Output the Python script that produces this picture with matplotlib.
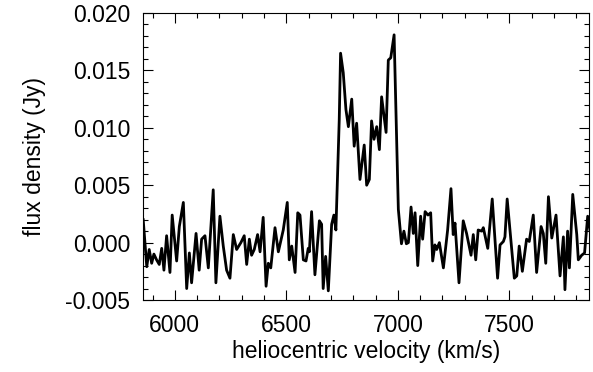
import matplotlib
matplotlib.use("Agg")
import matplotlib.pyplot as plt
from matplotlib.ticker import MultipleLocator, FormatStrFormatter

# heliocentric velocity (km/s) and flux density (Jy)
velocity = [5858, 5874, 5885, 5896, 5906, 5918, 5930, 5941, 5951, 5963,
            5978, 5988, 6008, 6020, 6038, 6053, 6065, 6075, 6095, 6109,
            6120, 6135, 6150, 6172, 6184, 6202, 6217, 6232, 6247, 6262,
            6277, 6296, 6311, 6322, 6334, 6344, 6356, 6371, 6382, 6396,
            6409, 6419, 6430, 6449, 6464, 6486, 6504, 6513, 6524, 6539,
            6551, 6561, 6576, 6588, 6598, 6603, 6613, 6628, 6648, 6658,
            6665, 6676, 6688, 6703, 6713, 6722, 6737, 6743, 6755, 6767,
            6778, 6793, 6804, 6815, 6830, 6849, 6860, 6872, 6882, 6893,
            6905, 6917, 6927, 6947, 6957, 6968, 6983, 7002, 7016, 7027,
            7038, 7047, 7059, 7069, 7077, 7089, 7102, 7111, 7122, 7135,
            7147, 7156, 7166, 7174, 7186, 7204, 7223, 7238, 7248, 7256,
            7274, 7293, 7308, 7328, 7338, 7349, 7360, 7376, 7383, 7403,
            7423, 7435, 7447, 7458, 7473, 7480, 7490, 7506, 7522, 7533,
            7544, 7558, 7577, 7589, 7607, 7622, 7642, 7652, 7663, 7675,
            7690, 7709, 7727, 7742, 7749, 7761, 7769, 7784, 7802, 7809,
            7824, 7837, 7851, 7861]
flux = [0.0020, -0.0021, -0.0006, -0.0018, -0.0010, -0.0015, -0.0019, -0.0005, -0.0024, 0.0006,
        -0.0026, 0.0024, -0.0016, 0.0014, 0.0035, -0.0040, -0.0009, -0.0035, 0.0008, -0.0024,
        0.0003, 0.0006, -0.0022, 0.0046, -0.0035, 0.0023, -0.0003, -0.0024, -0.0031, 0.0007,
        -0.0006, 0.0000, 0.0006, -0.0019, 0.0003, -0.0011, -0.0006, 0.0007, -0.0008, 0.0022,
        -0.0038, -0.0018, -0.0022, 0.0013, -0.0008, 0.0011, 0.0035, -0.0015, -0.0003, -0.0026,
        0.0026, 0.0024, -0.0015, -0.0016, -0.0005, -0.0008, 0.0027, -0.0028, 0.0019, 0.0016,
        -0.0040, -0.0012, -0.0042, 0.0016, 0.0024, 0.0011, 0.0107, 0.0165, 0.0148, 0.0116,
        0.0101, 0.0125, 0.0084, 0.0104, 0.0055, 0.0085, 0.0050, 0.0055, 0.0106, 0.0090,
        0.0101, 0.0081, 0.0127, 0.0096, 0.0159, 0.0161, 0.0181, 0.0029, -0.0001, 0.0010,
        -0.0001, 0.0000, 0.0031, 0.0008, 0.0026, -0.0020, 0.0023, 0.0003, 0.0027, 0.0024,
        0.0026, -0.0016, -0.0002, -0.0006, 0.0000, -0.0022, 0.0011, 0.0047, 0.0007, 0.0017,
        -0.0035, 0.0019, 0.0008, -0.0011, 0.0007, -0.0015, 0.0011, 0.0010, 0.0013, -0.0005,
        0.0038, 0.0003, -0.0031, -0.0002, 0.0001, 0.0005, 0.0038, 0.0004, -0.0031, -0.0029,
        -0.0003, -0.0025, 0.0003, 0.0001, 0.0024, -0.0026, 0.0014, 0.0008, -0.0018, 0.0040,
        0.0004, 0.0024, -0.0029, 0.0005, -0.0041, 0.0010, -0.0022, 0.0042, 0.0007, -0.0015,
        -0.0011, -0.0009, 0.0023, 0.0011]

plt.rcParams['font.family'] = ['Liberation Sans', 'DejaVu Sans']
plt.rcParams['axes.unicode_minus'] = False

fig = plt.figure(figsize=(5.93, 3.72), dpi=100)
ax = fig.add_axes([0.2411, 0.1935, 0.7522, 0.7715])

ax.plot(velocity, flux, color='black', lw=2.0)

ax.set_xlim(5857, 7857)
ax.set_ylim(-0.005, 0.020)

ax.xaxis.set_major_locator(MultipleLocator(500))
ax.xaxis.set_minor_locator(MultipleLocator(100))
ax.yaxis.set_major_locator(MultipleLocator(0.005))
ax.yaxis.set_minor_locator(MultipleLocator(0.001))
ax.yaxis.set_major_formatter(FormatStrFormatter('%.3f'))

ax.tick_params(which='both', direction='in', top=True, right=True,
               labelsize=16.5, width=0.8)
ax.tick_params(axis='y', pad=9)
ax.tick_params(axis='x', pad=10)
ax.tick_params(which='major', length=7)
ax.tick_params(which='minor', length=3.5)
for s in ax.spines.values():
    s.set_linewidth(0.8)

ax.set_xlabel("heliocentric velocity (km/s)", fontsize=16.5, labelpad=2)
ax.set_ylabel("flux density (Jy)", fontsize=16.5, labelpad=14)

fig.savefig("out.png", dpi=100)
